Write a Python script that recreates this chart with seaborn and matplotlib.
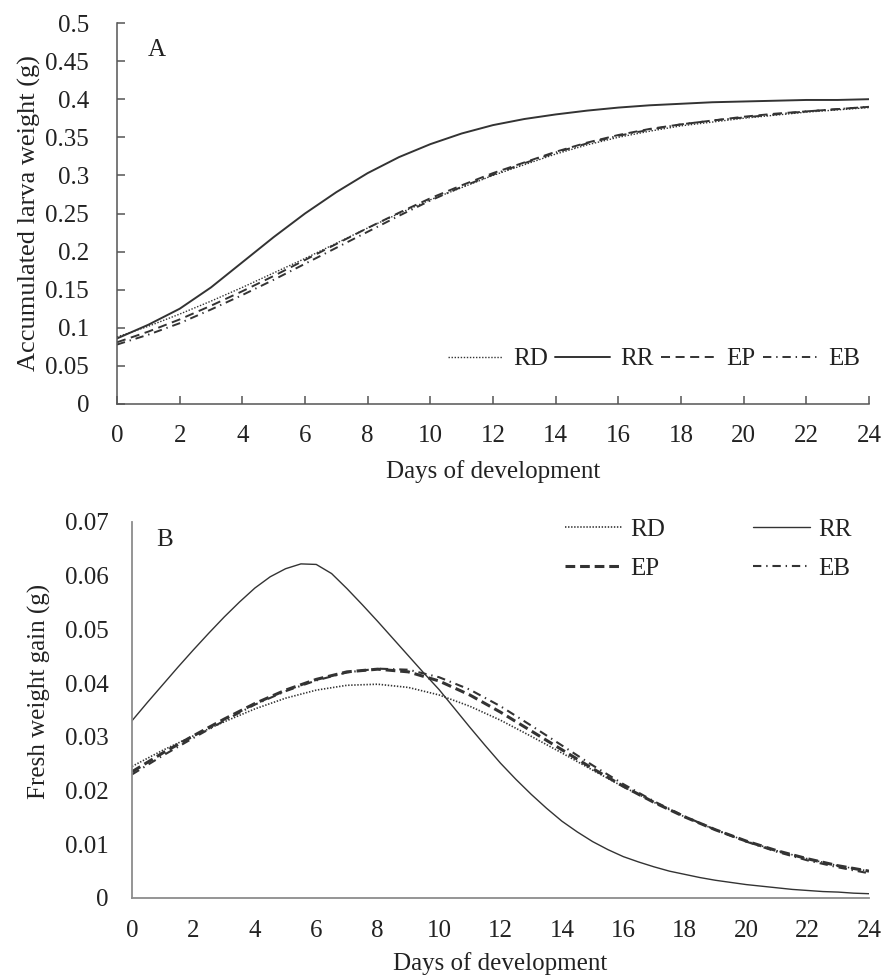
import matplotlib
matplotlib.use("Agg")
import matplotlib.pyplot as plt
import seaborn as sns
import numpy as np
import pandas as pd

sns.set_theme(style="white")
plt.rcParams['font.family'] = ['Liberation Serif', 'DejaVu Serif']
plt.rcParams['lines.scale_dashes'] = False

days = list(range(0, 25))
days_half = [i / 2 for i in range(0, 49)]
series = ["RD", "RR", "EP", "EB"]

# Panel A: accumulated larva weight (g)
acc_RD = [0.088, 0.102, 0.118, 0.135, 0.153, 0.172, 0.191, 0.211, 0.231, 0.250, 0.268, 0.284, 0.300,
          0.314, 0.328, 0.340, 0.350, 0.358, 0.365, 0.370, 0.375, 0.379, 0.383, 0.386, 0.389]
acc_RR = [0.086, 0.104, 0.125, 0.153, 0.186, 0.219, 0.250, 0.278, 0.303, 0.324, 0.341, 0.355, 0.366,
          0.374, 0.380, 0.385, 0.389, 0.392, 0.394, 0.396, 0.397, 0.398, 0.399, 0.399, 0.400]
acc_EP = [0.081, 0.095, 0.111, 0.129, 0.148, 0.168, 0.189, 0.210, 0.231, 0.251, 0.270, 0.287, 0.303,
          0.317, 0.331, 0.343, 0.353, 0.361, 0.367, 0.372, 0.377, 0.381, 0.384, 0.387, 0.390]
acc_EB = [0.078, 0.091, 0.106, 0.124, 0.143, 0.163, 0.184, 0.205, 0.226, 0.247, 0.267, 0.285, 0.301,
          0.316, 0.330, 0.342, 0.352, 0.360, 0.367, 0.372, 0.376, 0.380, 0.384, 0.387, 0.390]

# Panel B: fresh weight gain (g)
gain_RD = [0.0245, 0.0275, 0.0302, 0.0328, 0.0352, 0.0372, 0.0387, 0.0396, 0.0398, 0.0392, 0.0378, 0.0357,
           0.0331, 0.0301, 0.0270, 0.0238, 0.0207, 0.0178, 0.0151, 0.0127, 0.0106, 0.0088, 0.0073, 0.0060, 0.0050]
# RR read every half day (sharper curve)
gain_RR = [0.0330, 0.0364, 0.0397, 0.0430, 0.0462, 0.0493, 0.0523, 0.0551, 0.0577, 0.0598,
           0.0613, 0.0622, 0.0621, 0.0604, 0.0576, 0.0546, 0.0515, 0.0483, 0.0451, 0.0419,
           0.0388, 0.0353, 0.0318, 0.0284, 0.0251, 0.0221, 0.0193, 0.0167, 0.0143, 0.0123,
           0.0105, 0.0090, 0.0077, 0.0067, 0.0058, 0.0050, 0.0044, 0.0038, 0.0033, 0.0029,
           0.0025, 0.0022, 0.0019, 0.0016, 0.0014, 0.0012, 0.0011, 0.0009, 0.0008]
gain_EP = [0.0235, 0.0270, 0.0302, 0.0333, 0.0362, 0.0387, 0.0407, 0.0421, 0.0426, 0.0421, 0.0404, 0.0378,
           0.0346, 0.0311, 0.0276, 0.0241, 0.0208, 0.0178, 0.0151, 0.0127, 0.0106, 0.0088, 0.0073, 0.0060, 0.0050]
gain_EB = [0.0230, 0.0265, 0.0298, 0.0330, 0.0360, 0.0385, 0.0405, 0.0420, 0.0427, 0.0425, 0.0411, 0.0388,
           0.0357, 0.0321, 0.0284, 0.0247, 0.0212, 0.0180, 0.0152, 0.0127, 0.0105, 0.0086, 0.0070, 0.0057, 0.0046]

acc = {"RD": acc_RD, "RR": acc_RR, "EP": acc_EP, "EB": acc_EB}
gain = {"RD": gain_RD, "RR": gain_RR, "EP": gain_EP, "EB": gain_EB}
gain_x = {"RD": days, "RR": days_half, "EP": days, "EB": days}

col = "#333333"
stylesA = {"RD": dict(linestyle=(0, (1, 1.2)), lw=1.0),
           "RR": dict(linestyle="-", lw=1.4),
           "EP": dict(linestyle=(0, (6.5, 4)), lw=1.4),
           "EB": dict(linestyle=(0, (6, 3.5, 1, 3.5)), lw=1.4)}
stylesB = {"RD": dict(linestyle=(0, (1, 1.2)), lw=1.2),
           "RR": dict(linestyle="-", lw=1.0),
           "EP": dict(linestyle=(0, (7, 3.5)), lw=2.2),
           "EB": dict(linestyle=(0, (6, 3.5, 1, 3.5)), lw=1.5)}

fig = plt.figure(figsize=(8.84, 9.77), dpi=100)
axA = fig.add_axes([117/884, 1-404/977, (869-117)/884, (404-23)/977])
axB = fig.add_axes([132/884, 1-898/977, (869-132)/884, (898-522)/977])

fs = 18
for name in series:
    sns.lineplot(x=days, y=acc[name], ax=axA, color=col, label=name, **stylesA[name])
    sns.lineplot(x=gain_x[name], y=gain[name], ax=axB, color=col, label=name, **stylesB[name])

# Panel A formatting
axA.set_xlim(0, 24)
axA.set_ylim(0, 0.5)
axA.set_xticks(range(0, 25, 2))
axA.set_yticks(np.arange(0, 0.501, 0.05))
axA.set_yticklabels(["0", "0.05", "0.1", "0.15", "0.2", "0.25", "0.3", "0.35", "0.4", "0.45", "0.5"])
axA.tick_params(axis="both", direction="in", length=6, width=1.1, color="#555555",
                labelsize=fs, bottom=True, left=True, labelcolor="#222222")
axA.tick_params(axis="x", pad=15)
axA.tick_params(axis="y", pad=20)
for s in ["top", "right"]:
    axA.spines[s].set_visible(False)
for s in ["left", "bottom"]:
    axA.spines[s].set_color("#555555")
    axA.spines[s].set_linewidth(1.1)
axA.set_xlabel("Days of development", fontsize=fs, color="#222222")
axA.xaxis.label.set_va("center")
axA.xaxis.set_label_coords(0.5, -0.178)
axA.set_ylabel("Accumulated larva weight (g)", fontsize=19, color="#222222")
axA.yaxis.label.set_va("center")
axA.yaxis.set_label_coords(-0.116, 0.5)
axA.text(1.28, 0.465, "A", fontsize=fs, ha="center", va="center", color="#222222")
axA.legend(loc="center right", bbox_to_anchor=(0.988, 0.118), ncol=4, frameon=False, fontsize=fs,
           handlelength=2.2, handletextpad=0.4, columnspacing=0.3, borderaxespad=0, borderpad=0,
           labelcolor="#222222")

# Panel B formatting
axB.set_xlim(0, 24)
axB.set_ylim(0, 0.07)
axB.set_xticks(range(0, 25, 2))
axB.set_yticks(np.arange(0, 0.0701, 0.01))
axB.set_yticklabels(["0", "0.01", "0.02", "0.03", "0.04", "0.05", "0.06", "0.07"])
axB.tick_params(axis="both", length=0, labelsize=fs, bottom=False, left=False, labelcolor="#222222")
axB.tick_params(axis="x", pad=16)
axB.tick_params(axis="y", pad=17)
for s in ["top", "right"]:
    axB.spines[s].set_visible(False)
for s in ["left", "bottom"]:
    axB.spines[s].set_color("#8c8c8c")
    axB.spines[s].set_linewidth(1.3)
axB.set_xlabel("Days of development", fontsize=fs, color="#222222")
axB.xaxis.label.set_va("center")
axB.xaxis.set_label_coords(0.5, -0.173)
axB.set_ylabel("Fresh weight gain (g)", fontsize=fs, color="#222222")
axB.yaxis.label.set_va("center")
axB.yaxis.set_label_coords(-0.126, 0.55)
axB.text(1.07, 0.0666, "B", fontsize=fs, ha="center", va="center", color="#222222")
hB, lB = axB.get_legend_handles_labels()
order = [lB.index(n) for n in ["RD", "EP", "RR", "EB"]]
axB.legend([hB[i] for i in order], [lB[i] for i in order],
           loc="upper right", bbox_to_anchor=(0.976, 1.009), ncol=2, frameon=False, fontsize=fs,
           handlelength=2.3, handletextpad=0.3, columnspacing=3.5, labelspacing=0.66,
           borderaxespad=0, borderpad=0, labelcolor="#222222")

fig.savefig("out.png", dpi=100)
